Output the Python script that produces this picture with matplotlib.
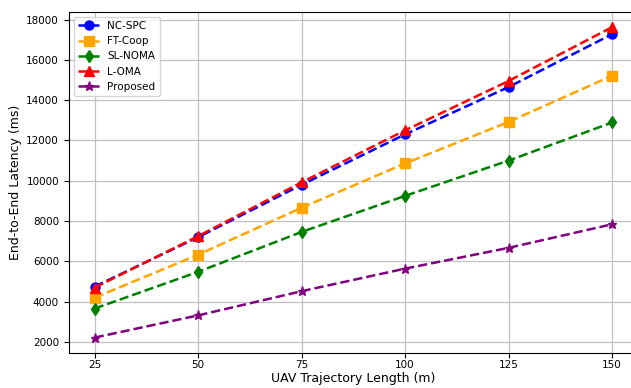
import matplotlib.pyplot as plt

# UAV trajectory length (m)
lengths = [25, 50, 75, 100, 125, 150]

# end-to-end latency (ms)
nc_spc = [4750, 7200, 9800, 12300, 14650, 17270]
ft_coop = [4200, 6330, 8660, 10860, 12920, 15210]
sl_noma = [3660, 5480, 7460, 9250, 11000, 12890]
l_oma = [4700, 7250, 9920, 12500, 14950, 17620]
proposed = [2220, 3320, 4520, 5640, 6670, 7840]

series = [
    ("NC-SPC", nc_spc, "blue", "o"),
    ("FT-Coop", ft_coop, "orange", "s"),
    ("SL-NOMA", sl_noma, "green", "d"),
    ("L-OMA", l_oma, "red", "^"),
    ("Proposed", proposed, "purple", "*"),
]

fig = plt.figure(figsize=(6.31, 3.88), dpi=100)
ax = fig.add_axes([0.109, 0.090, 0.902, 0.880])

for name, vals, color, marker in series:
    ax.plot(lengths, vals, linestyle="--", marker=marker, color=color,
            linewidth=1.8, markersize=6.5, label=name)

ax.set_xticks(lengths)
ax.tick_params(labelsize=7.5)
ax.tick_params(axis="x", pad=1.5)
ax.set_xlabel("UAV Trajectory Length (m)", fontsize=9, labelpad=1.5)
ax.set_ylabel("End-to-End Latency (ms)", fontsize=9, labelpad=3)
ax.grid(True, linewidth=0.9, color="#c0c0c0")
ax.legend(loc="upper left", fontsize=7.5)

fig.savefig("out.png", dpi=100)
